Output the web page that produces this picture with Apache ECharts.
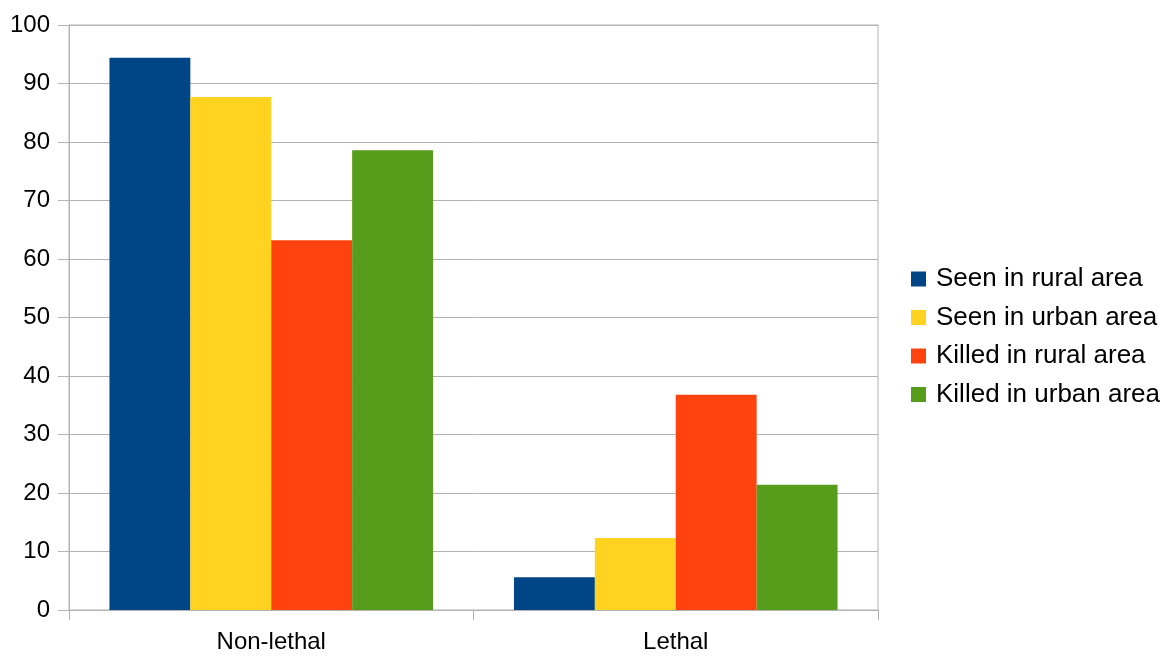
<!DOCTYPE html>
<html>
<head>
<meta charset="utf-8">
<script src="https://cdn.jsdelivr.net/npm/echarts@6/dist/echarts.min.js"></script>
<style>
  html, body { margin: 0; padding: 0; background: #fff; }
  #chart { width: 1173px; height: 657px; }
</style>
</head>
<body>
<div id="chart"></div>
<script>
const categories = ['Non-lethal', 'Lethal'];
const seriesNames = ['Seen in rural area', 'Seen in urban area', 'Killed in rural area', 'Killed in urban area'];
const seenRural = [94.4, 5.6];
const seenUrban = [87.7, 12.3];
const killedRural = [63.2, 36.8];
const killedUrban = [78.6, 21.4];
const colors = ['#004586', '#ffd320', '#ff420e', '#579d1c'];

const values = [seenRural, seenUrban, killedRural, killedUrban];
const font = 'Liberation Sans, Arial, sans-serif';
const lineColor = '#b3b3b3';

const chart = echarts.init(document.getElementById('chart'), null, { renderer: 'canvas' });

chart.setOption({
  animation: false,
  color: colors,
  grid: {
    left: 69, right: 295, top: 25, bottom: 47,
    show: true, borderColor: lineColor, borderWidth: 1
  },
  legend: {
    orient: 'vertical',
    left: 906,
    top: 261,
    itemWidth: 15,
    itemHeight: 15,
    itemGap: 12.5,
    itemStyle: { borderWidth: 0 },
    icon: 'rect',
    textStyle: { fontFamily: font, fontSize: 26, color: '#000', padding: [0, 0, 0, 5] },
    data: seriesNames
  },
  xAxis: {
    type: 'category',
    data: categories,
    axisLine: { lineStyle: { color: lineColor } },
    axisTick: { show: true, length: 10, lineStyle: { color: lineColor } },
    axisLabel: { fontFamily: font, fontSize: 24, color: '#000', margin: 20 }
  },
  yAxis: {
    type: 'value',
    min: 0,
    max: 100,
    interval: 10,
    axisLine: { show: true, lineStyle: { color: lineColor } },
    axisTick: { show: true, length: 11, lineStyle: { color: lineColor } },
    axisLabel: { fontFamily: font, fontSize: 24, color: '#000', margin: 19 },
    splitLine: { lineStyle: { color: lineColor } }
  },
  series: seriesNames.map((name, i) => ({
    name,
    type: 'bar',
    data: values[i],
    barGap: '0%',
    barCategoryGap: '20%'
  }))
});
</script>
</body>
</html>
